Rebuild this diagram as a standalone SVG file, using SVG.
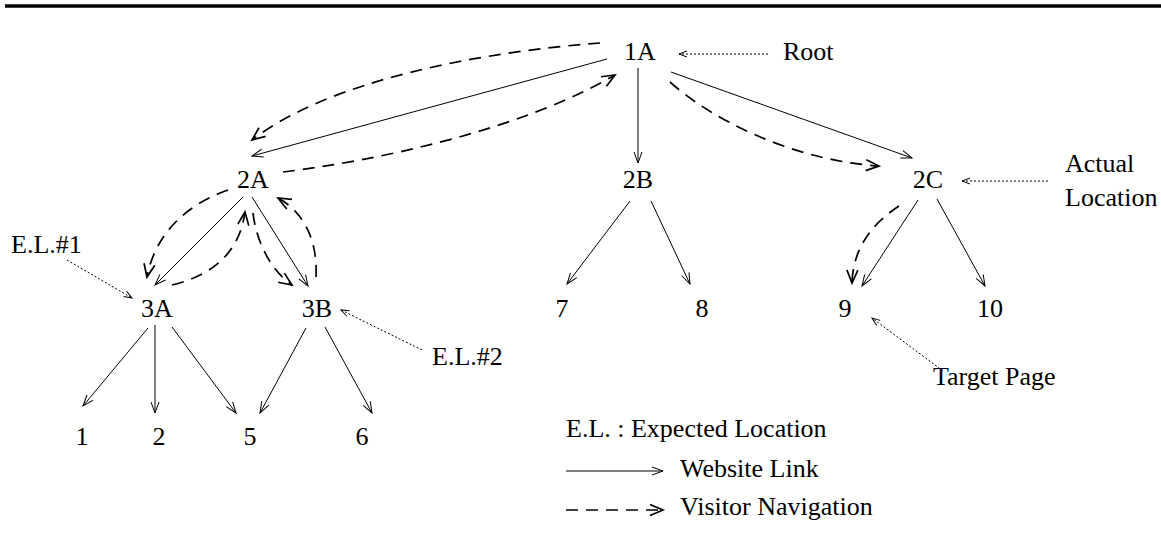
<svg xmlns="http://www.w3.org/2000/svg" width="1161" height="554" viewBox="0 0 1161 554">
<style>
text{font-family:"Liberation Serif","Times New Roman",serif;font-size:26px;fill:#000}
.n{text-anchor:middle}
.s{fill:none;stroke:#000;stroke-width:1}
.d{fill:none;stroke:#000;stroke-width:1.7;stroke-dasharray:12,8}
.o{fill:none;stroke:#000;stroke-width:1;stroke-dasharray:2,2}
</style>
<defs>
<marker id="ms" markerUnits="userSpaceOnUse" markerWidth="20" markerHeight="20" viewBox="-15 -10 20 20" refX="0" refY="0" orient="auto"><path d="M-11,-4 L0,0 L-11,4" fill="none" stroke="#000" stroke-width="1"/></marker>
<marker id="md" markerUnits="userSpaceOnUse" markerWidth="24" markerHeight="24" viewBox="-18 -12 24 24" refX="0" refY="0" orient="auto"><path d="M-13,-5.5 L0,0 L-13,5.5" fill="none" stroke="#000" stroke-width="1.7"/></marker>
<marker id="mo" markerUnits="userSpaceOnUse" markerWidth="16" markerHeight="16" viewBox="-12 -8 16 16" refX="0" refY="0" orient="auto"><path d="M-8,-3 L0,0 L-8,3" fill="none" stroke="#000" stroke-width="1"/></marker>
</defs>
<line x1="5" y1="6" x2="1161" y2="6" stroke="#000" stroke-width="3.5"/>
<g id="connectors">
<line class="s" x1="607" y1="59" x2="252" y2="156" marker-end="url(#ms)"/>
<line class="s" x1="638" y1="68" x2="638" y2="163" marker-end="url(#ms)"/>
<line class="s" x1="671" y1="72" x2="912" y2="158" marker-end="url(#ms)"/>
<line class="s" x1="243" y1="197" x2="155" y2="285" marker-end="url(#ms)"/>
<line class="s" x1="252" y1="197" x2="308" y2="286" marker-end="url(#ms)"/>
<line class="s" x1="148" y1="328" x2="83" y2="406" marker-end="url(#ms)"/>
<line class="s" x1="155" y1="325" x2="155" y2="413" marker-end="url(#ms)"/>
<line class="s" x1="172" y1="327" x2="236" y2="413" marker-end="url(#ms)"/>
<line class="s" x1="306" y1="328" x2="260" y2="413" marker-end="url(#ms)"/>
<line class="s" x1="325" y1="327" x2="372" y2="413" marker-end="url(#ms)"/>
<line class="s" x1="630" y1="201" x2="567" y2="284" marker-end="url(#ms)"/>
<line class="s" x1="651" y1="201" x2="690" y2="284" marker-end="url(#ms)"/>
<line class="s" x1="918" y1="200" x2="862" y2="286" marker-end="url(#ms)"/>
<line class="s" x1="937" y1="199" x2="985" y2="286" marker-end="url(#ms)"/>
<path class="d" d="M600,43 C480,52 330,80 252,140" marker-end="url(#md)"/>
<path class="d" d="M283,172 C380,160 520,130 615,75" marker-end="url(#md)"/>
<path class="d" d="M670,82 C710,118 790,160 879,166" marker-end="url(#md)"/>
<path class="d" d="M228,190 C185,205 155,235 147,277" marker-end="url(#md)"/>
<path class="d" d="M172,285 C215,275 240,250 245,212" marker-end="url(#md)"/>
<path class="d" d="M253,213 C256,240 270,270 292,285" marker-end="url(#md)"/>
<path class="d" d="M316,277 C318,235 300,210 278,198" marker-end="url(#md)"/>
<path class="d" d="M899,206 C870,225 853,250 852,283" marker-end="url(#md)"/>
<line class="o" x1="768" y1="54" x2="679" y2="54" marker-end="url(#mo)"/>
<line class="o" x1="1048" y1="181" x2="962" y2="181" marker-end="url(#mo)"/>
<line class="o" x1="67" y1="260" x2="132" y2="298" marker-end="url(#mo)"/>
<line class="o" x1="422" y1="350" x2="341" y2="310" marker-end="url(#mo)"/>
<line class="o" x1="943" y1="371" x2="872" y2="318" marker-end="url(#mo)"/>
</g>
<g id="n1A"><text class="n" x="640" y="60">1A</text></g>
<g id="n2A"><text class="n" x="253" y="188">2A</text></g>
<g id="n2B"><text class="n" x="638" y="188">2B</text></g>
<g id="n2C"><text class="n" x="928" y="188">2C</text></g>
<g id="n3A"><text class="n" x="157" y="317">3A</text></g>
<g id="n3B"><text class="n" x="317" y="317">3B</text></g>
<g id="n7"><text class="n" x="562" y="317">7</text></g>
<g id="n8"><text class="n" x="702" y="317">8</text></g>
<g id="n9"><text class="n" x="845" y="317">9</text></g>
<g id="n10"><text class="n" x="990" y="317">10</text></g>
<g id="n1"><text class="n" x="82" y="445">1</text></g>
<g id="n2"><text class="n" x="159" y="445">2</text></g>
<g id="n5"><text class="n" x="250" y="445">5</text></g>
<g id="n6"><text class="n" x="362" y="445">6</text></g>
<g id="labels">
<text x="783" y="60">Root</text>
<text x="1065" y="172">Actual</text>
<text x="1065" y="206">Location</text>
<text x="11" y="253">E.L.#1</text>
<text x="432" y="365">E.L.#2</text>
<text x="933" y="385">Target Page</text>
</g>
<g id="legend">
<text x="566" y="437">E.L. : Expected Location</text>
<line class="s" x1="566" y1="471" x2="663" y2="471" marker-end="url(#ms)"/>
<text x="680" y="477">Website Link</text>
<path class="d" d="M566,510 L663,510" stroke-dasharray="9,11" marker-end="url(#md)"/>
<text x="680" y="515">Visitor Navigation</text>
</g>
</svg>
